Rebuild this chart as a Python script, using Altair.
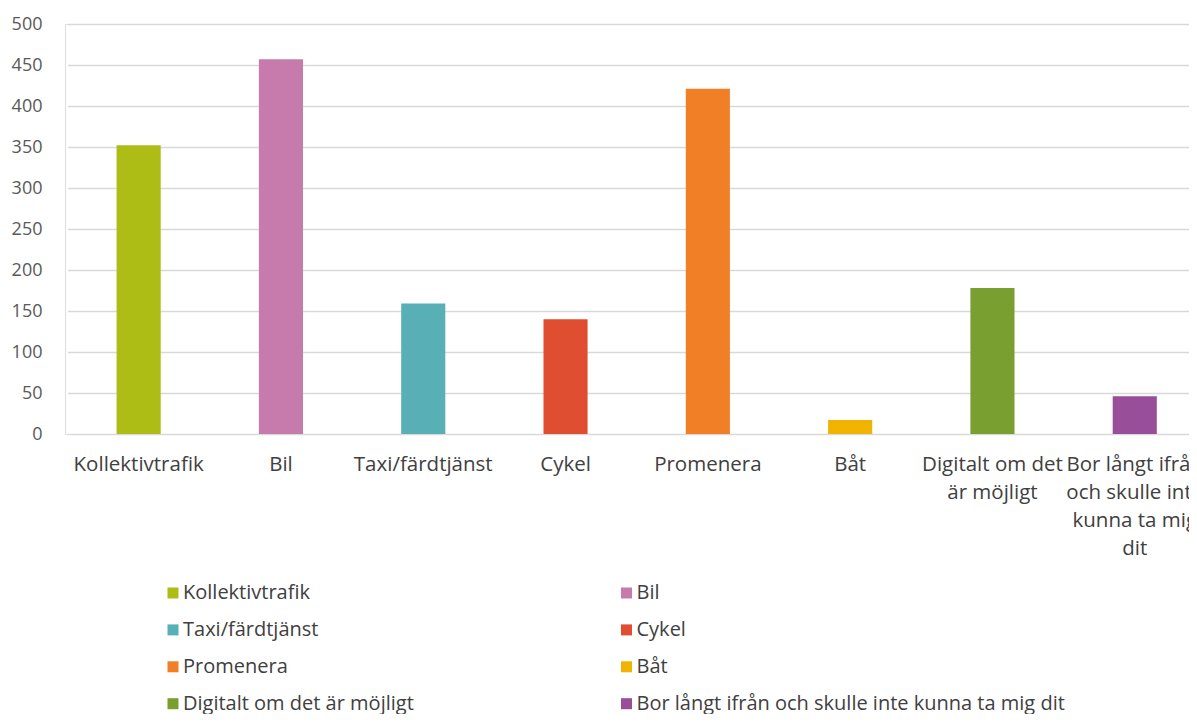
import altair as alt
import pandas as pd

categories = ["Kollektivtrafik", "Bil", "Taxi/färdtjänst", "Cykel", "Promenera", "Båt",
              "Digitalt om det är möjligt", "Bor långt ifrån och skulle inte kunna ta mig dit"]
axis_labels = ["Kollektivtrafik", "Bil", "Taxi/färdtjänst", "Cykel", "Promenera", "Båt",
               "Digitalt om det|är möjligt", "Bor långt ifrån|och skulle inte|kunna ta mig|dit"]
values = [352, 457, 159, 140, 421, 17, 178, 46]
colors = ["#ADBD16", "#C77BAD", "#58AFB6", "#E04E31", "#F07F26", "#F0B400", "#7A9F31", "#984E99"]

df = pd.DataFrame({"kategori": categories, "etikett": axis_labels, "antal": values})

FONT = "Open Sans"

chart = alt.Chart(df).mark_bar().encode(
    x=alt.X("etikett:N", sort=axis_labels,
            scale=alt.Scale(range=[2.5, 1140.9], paddingInner=0.69, paddingOuter=0.345),
            axis=alt.Axis(title=None, labelAngle=0, ticks=False, domain=False,
                          labelExpr="split(datum.label, '|')",
                          labelFont=FONT, labelFontSize=20.5, labelColor="#404040",
                          labelLineHeight=28, labelPadding=20.5, labelLimit=400)),
    y=alt.Y("antal:Q", scale=alt.Scale(domain=[0, 500], nice=False),
            axis=alt.Axis(title=None, values=list(range(0, 501, 50)), ticks=False, domain=False,
                          labelFont=FONT, labelFontSize=18, labelColor="#595959",
                          labelPadding=23, gridColor="#D9D9D9", gridWidth=1.5)),
    color=alt.Color("kategori:N", sort=categories,
                    scale=alt.Scale(domain=categories, range=colors),
                    legend=alt.Legend(title=None, orient="none", legendX=98, legendY=559,
                                      direction="horizontal",
                                      columns=2, columnPadding=202.5, rowPadding=16.9,
                                      symbolType="square", symbolSize=121, symbolStrokeWidth=0,
                                      labelOffset=0, padding=0, labelFont=FONT, labelFontSize=20,
                                      labelColor="#404040", labelLimit=600)),
).properties(
    width=1124, height=410,
    autosize=alt.AutoSizeParams(type="none"),
    padding={"left": 57, "top": 16, "right": 0, "bottom": 280},
).configure_view(stroke=None).configure(background="white")

chart.save("out.html", embed_options={"renderer": "svg", "actions": False})
